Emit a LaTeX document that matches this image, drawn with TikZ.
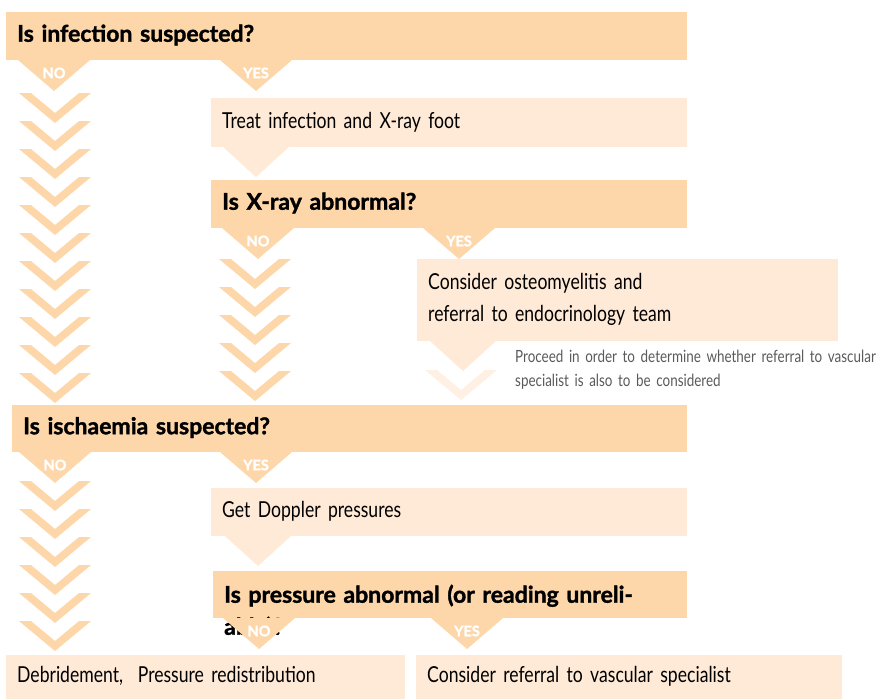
\documentclass[tikz,border=0pt]{standalone}
\usepackage{fontspec}
\setmainfont{Lato}[FakeStretch=0.8,BoldFeatures={FakeStretch=1.0,FakeBold=1.5}]
\definecolor{darkpeach}{HTML}{FDD7AA}
\definecolor{lightpeach}{HTML}{FEEAD6}
\definecolor{fadepeach}{HTML}{FEF0E3}
\definecolor{notegray}{HTML}{5A5A5A}
\begin{document}
\begin{tikzpicture}[x=1pt,y=-1pt,
  qbox/.style={fill=darkpeach,anchor=north west,inner xsep=11pt,inner ysep=0pt,
    align=left,text height=16pt,text depth=5pt,font=\fontsize{23}{32}\selectfont\bfseries},
  abox/.style={fill=lightpeach,anchor=north west,inner xsep=11pt,inner ysep=0pt,
    align=left,text height=16pt,text depth=5pt,font=\fontsize{22}{32}\selectfont},
  yesno/.style={text=white,inner sep=0pt,font=\fontsize{14.5}{15}\selectfont\bfseries}]
  \useasboundingbox (0,0) rectangle (878,699);

  % NO column chevrons
  \foreach \t in {93,121,...,373}
    \fill[darkpeach] (19,\t) -- (31,\t) -- (55,\t+20) -- (79,\t) -- (91,\t) -- (55,\t+30) -- cycle;
  \foreach \t in {481,509,...,621}
    \fill[darkpeach] (19,\t) -- (31,\t) -- (55,\t+20) -- (79,\t) -- (91,\t) -- (55,\t+30) -- cycle;
  \foreach \t in {259,287,...,371}
    \fill[darkpeach] (219,\t) -- (231,\t) -- (255,\t+20) -- (279,\t) -- (291,\t) -- (255,\t+30) -- cycle;
  \fill[fadepeach] (425,370) -- (437,370) -- (461,390) -- (485,370) -- (497,370) -- (461,400) -- cycle;

  % boxes
  \node[qbox,text width=659pt,minimum height=48pt] (infect) at (6,12) {Is infection suspected?};
  \node[abox,text width=454pt,minimum height=49pt] (treat) at (211,98) {Treat infection and X-ray foot};
  \node[qbox,text width=454pt,minimum height=48pt] (xray) at (211,180) {Is X-ray abnormal?};
  \node[abox,text width=399pt,minimum height=82pt,text depth=37pt] (osteo) at (417,259)
    {Consider osteomyelitis and\\referral to endocrinology team};
  \node[anchor=north west,inner sep=0pt,text width=370pt,align=left,text=notegray,
    font=\fontsize{16.8}{24}\selectfont] (note) at (515,350)
    {Proceed in order to determine whether referral to vascular\\specialist is also to be considered};
  \node[qbox,text width=653pt,minimum height=47pt] (isch) at (12,405) {Is ischaemia suspected?};
  \node[abox,text width=454pt,minimum height=48pt] (doppler) at (211,488) {Get Doppler pressures};
  \node[qbox,text width=452pt,minimum height=47pt,text depth=0pt] (press) at (213,571)
    {Is pressure abnormal (or reading unreli-\\able)?};
  \node[abox,text width=377pt,minimum height=44pt] (debride) at (6,655) {Debridement,\ \ Pressure redistribution};
  \node[abox,text width=404pt,minimum height=44pt] (vasc) at (416,655) {Consider referral to vascular specialist};

  % NO / YES pointers
  \foreach \x/\y in {54/60,256/60,258/228,459/228,55/452,256/452,259/618,467/618}
    \fill[darkpeach] (\x-36,\y) -- (\x+36,\y) -- (\x,\y+31) -- cycle;
  \foreach \x/\y in {256/147,463/341,258/536}
    \fill[lightpeach] (\x-33,\y) -- (\x+33,\y) -- (\x,\y+30) -- cycle;
  \node[yesno] (no1) at (54,73) {NO};
  \node[yesno] (yes1) at (256,73) {YES};
  \node[yesno] (no2) at (258,241) {NO};
  \node[yesno] (yes2) at (459,241) {YES};
  \node[yesno] (no3) at (55,465) {NO};
  \node[yesno] (yes3) at (256,465) {YES};
  \node[yesno] (no4) at (259,631) {NO};
  \node[yesno] (yes4) at (467,631) {YES};
\end{tikzpicture}
\end{document}
